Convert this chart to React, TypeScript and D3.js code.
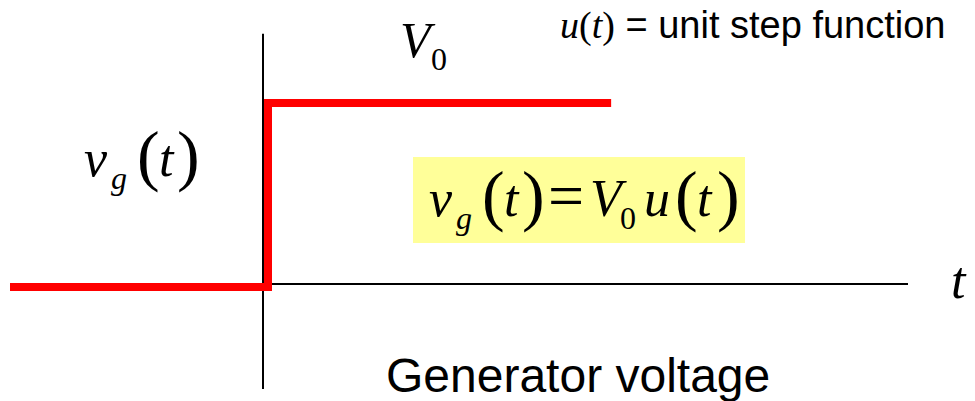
import React from "react";
import * as d3 from "d3";

// Step waveform: generator voltage v_g(t) = V0 u(t)
const stepTimes = [-1, 0, 0, 1.33];
const stepValues = [0, 0, 1, 1];
const timeAxisExtent = [0, 2.5];
const voltAxisExtent = [-0.57, 1.36];

const W = 975;
const H = 401;

const serif = "'Liberation Serif', 'Times New Roman', serif";
const sans = "'Liberation Sans', Arial, sans-serif";

export default function App() {
  const x = d3.scaleLinear().domain([-1, 0]).range([5, 263]);
  const y = d3.scaleLinear().domain([0, 1]).range([284, 100]);

  const pts: [number, number][] = stepTimes.map((t, i) => [t, stepValues[i]]);
  const line = d3
    .line<[number, number]>()
    .x((d) => x(d[0]))
    .y((d) => y(d[1]));

  return (
    <svg
      width={W}
      height={H}
      viewBox={`0 0 ${W} ${H}`}
      style={{ position: "absolute", left: 0, top: 0, background: "#fff" }}
    >
      {/* axes */}
      <line
        x1={x(0)}
        x2={x(0)}
        y1={y(voltAxisExtent[1])}
        y2={y(voltAxisExtent[0])}
        stroke="#000"
        strokeWidth={2}
      />
      <line
        x1={x(timeAxisExtent[0])}
        x2={x(timeAxisExtent[1])}
        y1={y(0)}
        y2={y(0)}
        stroke="#000"
        strokeWidth={2}
      />

      {/* step */}
      <path
        d={line(pts) || ""}
        transform="translate(5,3)"
        fill="none"
        stroke="#ff0000"
        strokeWidth={8}
        strokeLinejoin="miter"
        strokeLinecap="butt"
      />

      {/* V0 label */}
      <text fontFamily={serif} fill="#000">
        <tspan x={400} y={57} fontSize={50} fontStyle="italic">V</tspan>
        <tspan x={431} y={70} fontSize={32}>0</tspan>
      </text>

      {/* u(t) = unit step function */}
      <text x={560} y={38} fontSize={38} fill="#000">
        <tspan fontFamily={serif} fontStyle="italic">u</tspan>
        <tspan fontFamily={serif}>(</tspan>
        <tspan fontFamily={serif} fontStyle="italic">t</tspan>
        <tspan fontFamily={serif}>)</tspan>
        <tspan fontFamily={sans}> = unit step function</tspan>
      </text>

      {/* left label v_g(t) */}
      <text fontFamily={serif} fill="#000">
        <tspan x={84} y={176} fontSize={52} fontStyle="italic">v</tspan>
        <tspan x={111} y={189} fontSize={32} fontStyle="italic">g</tspan>
        <tspan x={137} y={178} fontSize={68}>(</tspan>
        <tspan x={159} y={176} fontSize={52} fontStyle="italic">t</tspan>
        <tspan x={177} y={178} fontSize={68}>)</tspan>
      </text>

      {/* highlighted formula */}
      <rect x={413} y={157} width={332} height={86} fill="#ffff99" />
      <text fontFamily={serif} fill="#000">
        <tspan x={429} y={216} fontSize={52} fontStyle="italic">v</tspan>
        <tspan x={456} y={229} fontSize={32} fontStyle="italic">g</tspan>
        <tspan x={482} y={218} fontSize={68}>(</tspan>
        <tspan x={504} y={216} fontSize={52} fontStyle="italic">t</tspan>
        <tspan x={522} y={218} fontSize={68}>)</tspan>
        <tspan x={548} y={217} fontSize={64}>=</tspan>
        <tspan x={590} y={216} fontSize={52} fontStyle="italic">V</tspan>
        <tspan x={620} y={229} fontSize={32}>0</tspan>
        <tspan x={644} y={216} fontSize={52} fontStyle="italic">u</tspan>
        <tspan x={675} y={218} fontSize={68}>(</tspan>
        <tspan x={697} y={216} fontSize={52} fontStyle="italic">t</tspan>
        <tspan x={717} y={218} fontSize={68}>)</tspan>
      </text>

      {/* t axis label */}
      <text x={951} y={298} fontFamily={serif} fontSize={52} fontStyle="italic" fill="#000">
        t
      </text>

      {/* caption */}
      <text x={386} y={392} fontFamily={sans} fontSize={48} fill="#000">
        Generator voltage
      </text>
    </svg>
  );
}
